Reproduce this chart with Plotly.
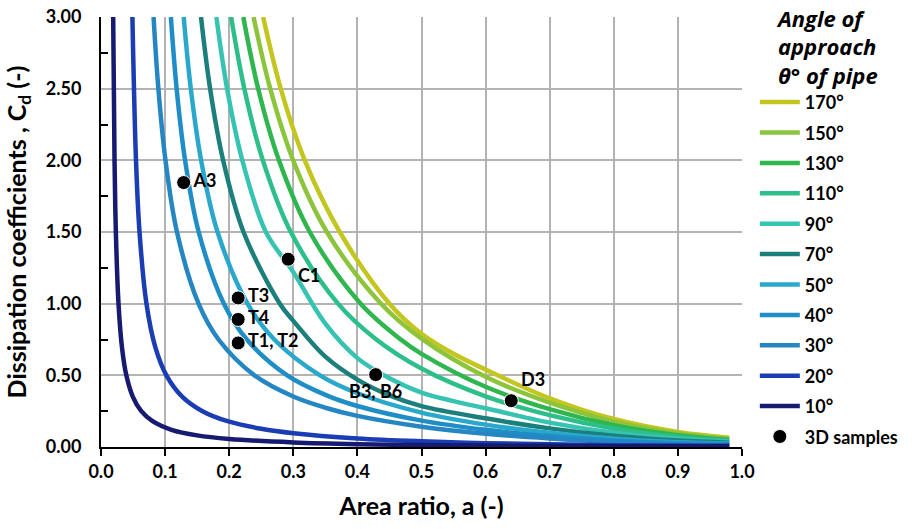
import plotly.graph_objects as go

# ---- data ----
angle_labels = ["170°", "150°", "130°", "110°", "90°", "70°", "50°", "40°", "30°", "20°", "10°"]
colors = ["#c2c61f", "#8cc43c", "#2fb64e", "#2cbf8a", "#37c3b2", "#1b7f7b",
          "#2aa8cc", "#1f8ec6", "#2486c2", "#1b3db3", "#161a70"]

a_170 = [0.2530, 0.2804, 0.3179, 0.3725, 0.4500, 0.5, 0.55, 0.6, 0.7, 0.8, 0.9, 0.98]
cd_170 = [3.00, 2.50, 2.00, 1.50, 1.00, 0.79, 0.65, 0.540, 0.340, 0.195, 0.105, 0.065]

a_150 = [0.2380, 0.2640, 0.2998, 0.3524, 0.4369, 0.5, 0.6, 0.7, 0.8, 0.9, 0.98]
cd_150 = [3.00, 2.50, 2.00, 1.50, 1.00, 0.756, 0.490, 0.309, 0.177, 0.095, 0.058]

a_130 = [0.2220, 0.2452, 0.2776, 0.3257, 0.4051, 0.4677, 0.5, 0.6, 0.7, 0.8, 0.9, 0.98]
cd_130 = [3.00, 2.50, 2.00, 1.50, 1.00, 0.75, 0.650, 0.420, 0.264, 0.152, 0.082, 0.050]

a_110 = [0.2030, 0.2236, 0.2525, 0.2961, 0.3698, 0.4295, 0.5, 0.6, 0.7, 0.8, 0.9, 0.98]
cd_110 = [3.00, 2.50, 2.00, 1.50, 1.00, 0.75, 0.547, 0.353, 0.222, 0.128, 0.070, 0.043]

a_90 = [0.1800, 0.1967, 0.2205, 0.2572, 0.3, 0.35, 0.4, 0.45, 0.5, 0.55, 0.6, 0.7, 0.8, 0.9, 0.98]
cd_90 = [3.00, 2.50, 2.00, 1.50, 1.22, 0.86, 0.62, 0.48, 0.38, 0.32, 0.27, 0.170, 0.100, 0.057, 0.036]

a_70 = [0.1560, 0.1702, 0.1905, 0.2223, 0.2790, 0.3, 0.35, 0.4, 0.45, 0.5, 0.6, 0.7, 0.8, 0.9, 0.98]
cd_70 = [3.00, 2.50, 2.00, 1.50, 1.00, 0.88, 0.63, 0.47, 0.36, 0.285, 0.200, 0.130, 0.078, 0.045, 0.030]

a_50 = [0.1290, 0.1401, 0.1562, 0.1818, 0.2286, 0.2703, 0.3416, 0.4, 0.5, 0.6, 0.7, 0.8, 0.9, 0.98]
cd_50 = [3.00, 2.50, 2.00, 1.50, 1.00, 0.75, 0.50, 0.375, 0.240, 0.156, 0.099, 0.058, 0.033, 0.024]

a_40 = [0.1090, 0.1180, 0.1312, 0.1524, 0.1917, 0.2275, 0.2905, 0.35, 0.4, 0.5, 0.6, 0.7, 0.8, 0.9, 0.98]
cd_40 = [3.00, 2.50, 2.00, 1.50, 1.00, 0.75, 0.50, 0.364, 0.286, 0.184, 0.120, 0.076, 0.045, 0.026, 0.019]

a_30 = [0.0820, 0.0895, 0.1006, 0.1185, 0.1522, 0.1834, 0.2394, 0.3, 0.35, 0.4, 0.5, 0.6, 0.7, 0.8, 0.9, 0.98]
cd_30 = [3.00, 2.50, 2.00, 1.50, 1.00, 0.75, 0.50, 0.352, 0.274, 0.217, 0.142, 0.093, 0.060, 0.036, 0.020, 0.014]

a_20 = [0.0490, 0.0546, 0.0601, 0.0709, 0.0845, 0.1020, 0.1270, 0.1583, 0.1974, 0.25, 0.3, 0.4, 0.5, 0.6, 0.7, 0.8, 0.9, 0.98]
cd_20 = [3.00, 2.00, 1.50, 1.00, 0.70, 0.50, 0.35, 0.25, 0.18, 0.127, 0.096, 0.060, 0.040, 0.027, 0.019, 0.013, 0.010, 0.009]

a_10 = [0.0190, 0.0211, 0.0232, 0.0273, 0.0326, 0.0395, 0.0497, 0.0629, 0.0804, 0.110, 0.15, 0.2, 0.3, 0.4, 0.5, 0.6, 0.7, 0.8, 0.9, 0.98]
cd_10 = [3.00, 2.00, 1.50, 1.00, 0.70, 0.50, 0.35, 0.25, 0.18, 0.12, 0.081, 0.056, 0.032, 0.020, 0.014, 0.010, 0.008, 0.006, 0.005, 0.005]

curves_a = [a_170, a_150, a_130, a_110, a_90, a_70, a_50, a_40, a_30, a_20, a_10]
curves_cd = [cd_170, cd_150, cd_130, cd_110, cd_90, cd_70, cd_50, cd_40, cd_30, cd_20, cd_10]

sample_names = ["A3", "C1", "T3", "T4", "T1, T2", "B3, B6", "D3"]
sample_a = [0.129, 0.292, 0.214, 0.214, 0.214, 0.4285, 0.640]
sample_cd = [1.845, 1.31, 1.04, 0.89, 0.726, 0.505, 0.323]
sample_textpos = ["middle right", "bottom right", "middle right", "middle right",
                  "middle right", "bottom center", "top right"]

x_ticks = [0.0, 0.1, 0.2, 0.3, 0.4, 0.5, 0.6, 0.7, 0.8, 0.9, 1.0]
y_ticks = [0.0, 0.5, 1.0, 1.5, 2.0, 2.5, 3.0]

FONT = "Lato"
TITLE_FONT = "Open Sans"

fig = go.Figure()
for i, (lab, col, xa, yc) in enumerate(zip(angle_labels, colors, curves_a, curves_cd)):
    fig.add_trace(go.Scatter(
        x=xa, y=yc, mode="lines", name=lab, legendgroup=f"g{i}",
        line=dict(color=col, width=4.5, shape="spline", smoothing=1.0),
        hoverinfo="skip",
    ))

fig.add_trace(go.Scatter(
    x=sample_a, y=sample_cd, mode="markers+text", name="3D samples", legendgroup="gs",
    text=sample_names, textposition=sample_textpos,
    textfont=dict(family=FONT, size=18, color="black", weight="bold"),
    marker=dict(color="black", size=14, line=dict(color="white", width=1)),
    cliponaxis=False,
))

fig.update_layout(
    width=918, height=529,
    margin=dict(l=101, r=176, t=17, b=82, autoexpand=False),
    plot_bgcolor="white", paper_bgcolor="white",
    font=dict(family=FONT, color="black"),
    showlegend=True,
    legend=dict(
        x=1.02, xanchor="left", y=1.044, yanchor="top",
        bgcolor="rgba(0,0,0,0)", borderwidth=0,
        font=dict(family=FONT, size=18, color="black", weight="bold"),
        title=dict(text="<b><i>Angle of<br>approach<br>θ° of pipe</i></b>",
                   side="top center",
                   font=dict(family=TITLE_FONT, size=22, color="black")),
        tracegroupgap=4,
        itemwidth=40,
        maxheight=600,
    ),
    xaxis=dict(
        range=[0, 1], tickvals=x_ticks, ticktext=[f"{v:.1f}" for v in x_ticks],
        showgrid=True, gridcolor="#b3b3b3", gridwidth=2,
        showline=True, linecolor="black", linewidth=2,
        ticks="outside", ticklen=7, tickwidth=2, tickcolor="black",
        tickfont=dict(family=FONT, size=18, weight="bold"),
        zeroline=False,
        title=dict(text="Area ratio, a (-)", font=dict(family=FONT, size=25, weight="bold"), standoff=17),
    ),
    yaxis=dict(
        range=[0, 3], tickvals=y_ticks, ticktext=[f"{v:.2f}" for v in y_ticks],
        showgrid=True, gridcolor="#b3b3b3", gridwidth=2,
        showline=True, linecolor="black", linewidth=2,
        ticks="", tickfont=dict(family=FONT, size=18, weight="bold"),
        ticklabelstandoff=14,
        minor=dict(tickvals=[0.25, 0.75, 1.25, 1.75, 2.25, 2.75], ticks="inside", ticklen=7,
                   tickwidth=2, tickcolor="black", showgrid=False),
        zeroline=False,
        title=dict(text="Dissipation coefficients , C<sub>d</sub> (-)",
                   font=dict(family=FONT, size=25, weight="bold"), standoff=12),
    ),
)

fig.write_html("out.html")
